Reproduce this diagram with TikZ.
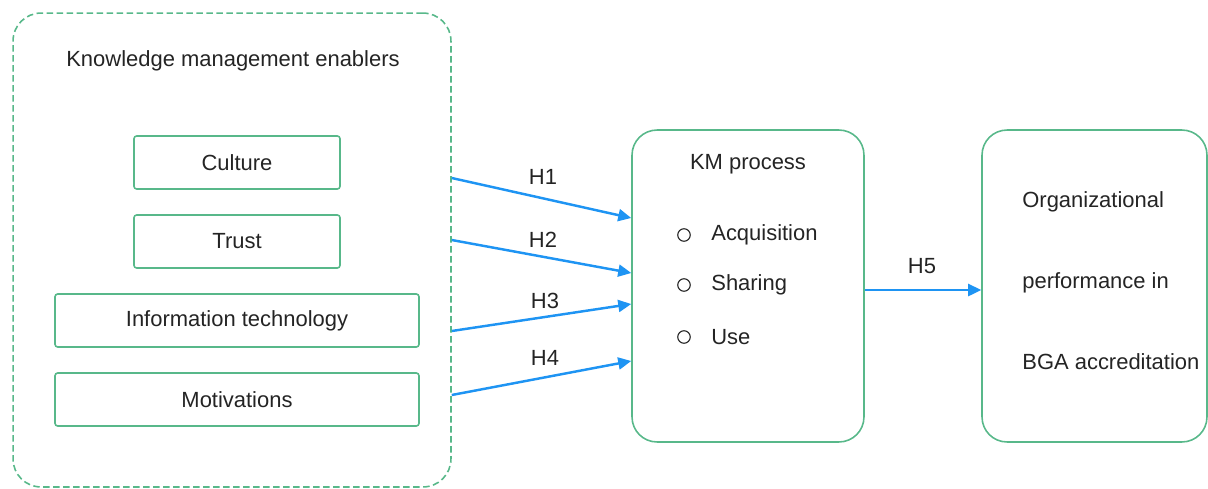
\documentclass[tikz,border=0pt]{standalone}
\usepackage{fontspec}
\setmainfont{Liberation Sans}
\usetikzlibrary{arrows.meta,positioning}
\definecolor{kmgreen}{RGB}{88,184,138}
\definecolor{kmblue}{RGB}{30,148,243}
\definecolor{kmtext}{RGB}{36,36,36}

\begin{document}
\begin{tikzpicture}[
    x=0.02cm, y=-0.02cm,
    every node/.style={text=kmtext, font=\fontsize{12.5}{14}\selectfont},
    frame/.style={draw=kmgreen, line width=0.9pt, rounded corners=0.5cm},
    enabler/.style={draw=kmgreen, line width=0.9pt, rounded corners=1.5pt, minimum height=1.06cm},
    bullet/.style={draw=kmtext, circle, line width=0.65pt, minimum size=0.25cm, inner sep=0pt},
    arrow/.style={-{Triangle[length=0.26cm,width=0.24cm]}, kmblue, line width=1.4pt},
    hyp/.style={inner sep=1pt}
]
    \useasboundingbox (0,0) rectangle (1208,488);

    \node[frame, dashed, dash pattern=on 0.13cm off 0.07cm, rounded corners=0.56cm,
          minimum width=8.76cm, minimum height=9.48cm] (enablers) at (232,250) {};
    \node (title) at (233,61) {Knowledge management enablers};

    \node[enabler, minimum width=4.12cm] (culture) at (237,162.5) {Culture};
    \node[enabler, minimum width=4.12cm] (trust) at (237,241.5) {Trust};
    \node[enabler, minimum width=7.28cm] (it) at (237,320.5) {Information technology};
    \node[enabler, minimum width=7.28cm] (motiv) at (237,399.5) {Motivations};

    \node[frame, minimum width=4.64cm, minimum height=6.24cm] (km) at (748,286) {};
    \node (kmtitle) at (748,164) {KM process};
    \node[bullet] (b1) at (684,235) {};
    \node[bullet] (b2) at (684,285) {};
    \node[bullet] (b3) at (684,337) {};
    \node[anchor=west, inner sep=0pt] (acq) at (711,235) {Acquisition};
    \node[anchor=west, inner sep=0pt] (share) at (711,285) {Sharing};
    \node[anchor=west, inner sep=0pt] (use) at (711,337) {Use};

    \node[frame, minimum width=4.5cm, minimum height=6.24cm] (perf) at (1094.5,286) {};
    \node[anchor=west, inner sep=0pt] (perf1) at (1022,202) {Organizational};
    \node[anchor=west, inner sep=0pt] (perf2) at (1022,283) {performance in};
    \node[anchor=west, inner sep=0pt] (perf3) at (1022,362) {BGA accreditation};

    \draw[arrow] (enablers.east |- 0,178) -- (km.west |- 0,218);
    \draw[arrow] (enablers.east |- 0,240) -- (km.west |- 0,273);
    \draw[arrow] (enablers.east |- 0,331) -- (km.west |- 0,304);
    \draw[arrow] (enablers.east |- 0,395) -- (km.west |- 0,361);
    \draw[arrow] (km.east |- 0,290) -- (perf.west |- 0,290);

    \node[hyp] (h1) at (543,177) {H1};
    \node[hyp] (h2) at (543,240) {H2};
    \node[hyp] (h3) at (545,301) {H3};
    \node[hyp] (h4) at (545,358) {H4};
    \node[hyp] (h5) at (922,266) {H5};
\end{tikzpicture}
\end{document}
